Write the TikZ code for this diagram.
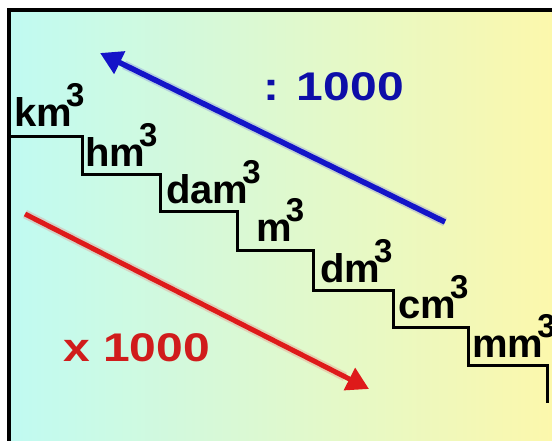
\documentclass[tikz,border=0pt]{standalone}
\usepackage{fontspec}
\setmainfont{Liberation Sans}
\usetikzlibrary{arrows.meta,calc}
\definecolor{bgleft}{RGB}{192,250,242}
\definecolor{bgright}{RGB}{252,248,172}
\definecolor{bluetxt}{RGB}{14,14,168}
\definecolor{blueline}{RGB}{20,20,200}
\definecolor{redtxt}{RGB}{208,28,28}
\definecolor{redline}{RGB}{222,26,26}
\newcommand\cub[1]{#1\kern-6pt\raisebox{20pt}{\fontsize{33}{33}\selectfont 3}}
\tikzset{
  lbl/.style={anchor=base west, inner sep=0pt, font=\bfseries\fontsize{40}{40}\selectfont},
  num/.style={anchor=base west, inner sep=0pt, xscale=1.2, font=\bfseries\fontsize{40}{40}\selectfont},
  stair/.style={line width=3pt, line join=miter},
  glow/.style={line width=9pt, opacity=0.3},
}
\begin{document}
\begin{tikzpicture}[x=1pt,y=-1pt]
\useasboundingbox (0,0) rectangle (552,441);
\shade[left color=bgleft,right color=bgright] (9,10) rectangle (552,441);
\draw[line width=4pt] (9,441) -- (9,10) -- (552,10);
% stairs
\draw[stair] (11,137) -- (82,137) -- (82,175) -- (160,175) -- (160,212) -- (237,212) -- (237,250)
  -- (313,250) -- (313,290) -- (393,290) -- (393,327) -- (468,327) -- (468,365) -- (547,365) -- (547,403);
% labels
\node[lbl] (km) at (14,127) {\cub{km}};
\node[lbl] (hm) at (85,167) {\cub{hm}};
\node[lbl] (dam) at (166,204) {\cub{dam}};
\node[lbl] (m) at (256,241) {\cub{m}};
\node[lbl] (dm) at (320,282) {\cub{dm}};
\node[lbl] (cm) at (398,318) {\cub{cm}};
\node[lbl] (mm) at (472,357) {\cub{mm}};
% arrows
\coordinate (bS) at (445,222);
\coordinate (bE) at (100,53);
\coordinate (rS) at (25,214);
\coordinate (rE) at (369,389);
\draw[glow, blueline!60] (bS) -- ($(bS)!0.93!(bE)$);
\draw[line width=5.5pt, blueline, -{Triangle[length=22pt,width=24pt]}] (bS) -- (bE);
\draw[glow, redline!60] (rS) -- ($(rS)!0.93!(rE)$);
\draw[line width=5pt, redline, -{Triangle[length=22pt,width=24pt]}] (rS) -- (rE);
% texts
\node[num, text=bluetxt] (div) at (263,101) {: 1000};
\node[num, text=redtxt] (mul) at (63,361) {x 1000};
\end{tikzpicture}
\end{document}
